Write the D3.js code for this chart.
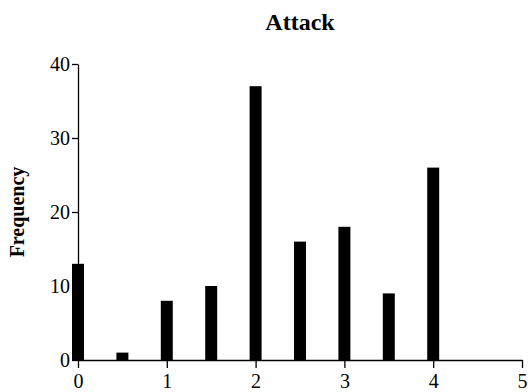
<!DOCTYPE html>
<html><head><meta charset="utf-8">
<script src="https://cdn.jsdelivr.net/npm/d3@7"></script>
<style>body{margin:0;background:#fff}svg{display:block}</style>
</head><body><div id="chart"></div>
<script>
const binCenters = [0, 0.5, 1, 1.5, 2, 2.5, 3, 3.5, 4];
const frequencies = [13, 1, 8, 10, 37, 16, 18, 9, 26];
const xTicks = [0, 1, 2, 3, 4, 5];
const yTicks = [0, 10, 20, 30, 40];
const title = "Attack";
const yLabel = "Frequency";

const W = 528, H = 392;
const m = {left: 78, right: 6, top: 64, bottom: 32};
const FONT = "'Liberation Serif', 'Times New Roman', serif";
const svg = d3.select("#chart").append("svg").attr("width", W).attr("height", H);
const x = d3.scaleLinear().domain([0, 5]).range([m.left, W - m.right]);
const y = d3.scaleLinear().domain([0, 40]).range([H - m.bottom, m.top]);
const bw = 0.135;

svg.append("g").selectAll("rect").data(binCenters).join("rect")
  .attr("x", (d) => x(d - bw / 2))
  .attr("width", (d) => x(d + bw / 2) - x(d - bw / 2))
  .attr("y", (d, i) => y(frequencies[i]))
  .attr("height", (d, i) => y(0) - y(frequencies[i]))
  .attr("fill", "#000");

const gx = svg.append("g").attr("transform", `translate(0,${y(0)})`)
  .call(d3.axisBottom(x).tickValues(xTicks).tickFormat(d3.format("d")).tickSize(8).tickSizeOuter(0));
const gy = svg.append("g").attr("transform", `translate(${m.left},0)`)
  .call(d3.axisLeft(y).tickValues(yTicks).tickSize(6).tickSizeOuter(0));
[gx, gy].forEach(g => {
  g.attr("font-family", null).attr("font-size", null);
  g.selectAll("text").style("font-size", "20px").style("font-family", FONT).attr("fill", "#000");
  g.selectAll("path,line").attr("stroke", "#000").attr("stroke-width", 1.3);
});
gx.selectAll("text").attr("dy", "0.71em").attr("y", 14);
gy.selectAll("text").attr("x", -8).attr("dy", "0.34em");

svg.append("text").attr("x", (m.left + W - m.right) / 2).attr("y", 30)
  .attr("text-anchor", "middle").style("font-family", FONT).style("font-weight", "bold").style("font-size", "24px").text(title);
svg.append("text").attr("transform", `translate(24,${(m.top + H - m.bottom) / 2}) rotate(-90)`)
  .attr("text-anchor", "middle").style("font-family", FONT).style("font-weight", "bold").style("font-size", "20px").text(yLabel);
</script></body></html>
